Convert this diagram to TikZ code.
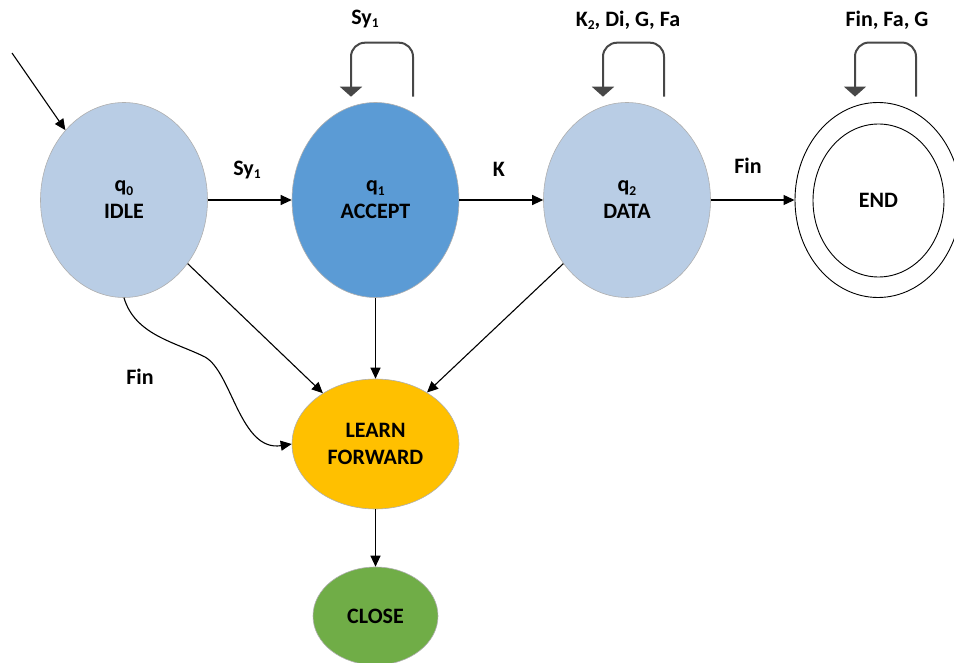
\documentclass[tikz,border=0pt]{standalone}
\usepackage{fontspec}
\setmainfont{Carlito}
\usetikzlibrary{shapes.geometric,arrows.meta,calc}
\newcommand\lowidx[1]{\raisebox{-0.3ex}{\fontsize{13.5}{13.5}\selectfont #1}}
\definecolor{paleblue}{RGB}{185,205,229}
\definecolor{midblue}{RGB}{91,155,213}
\definecolor{amber}{RGB}{255,192,0}
\definecolor{leaf}{RGB}{112,173,71}
\definecolor{rimgray}{RGB}{175,175,175}
\begin{document}
\begin{tikzpicture}[x=1pt,y=-1pt,
  font=\fontsize{22}{27}\selectfont\bfseries,
  state/.style={ellipse, draw=rimgray, line width=0.6pt, inner sep=0pt,
    align=center, minimum width=167pt, minimum height=195pt},
  edge/.style={-{Triangle[length=11pt,width=10pt]}, line width=1.1pt},
  selfloop/.style={-{Triangle[length=10pt,width=22pt]}, line width=2pt,
    draw=black!72, rounded corners=14pt}]
\useasboundingbox (0,0) rectangle (954,663);

% states
\node[state, fill=paleblue] (idle)   at (124,200)   {q\lowidx{0}\\IDLE};
\node[state, fill=midblue]  (accept) at (375.5,200) {q\lowidx{1}\\ACCEPT};
\node[state, fill=paleblue] (data)   at (627,200)   {q\lowidx{2}\\DATA};
\node[state, draw=black, line width=0.9pt, minimum width=166pt] (end) at (878,200) {};
\node[ellipse, draw=black, line width=0.9pt, inner sep=0pt,
      minimum width=131pt, minimum height=153pt] (endin) at (878.5,200.5) {END};
\node[state, fill=amber, minimum height=130pt] (learn) at (375.5,444) {LEARN\\FORWARD};
\node[state, fill=leaf, minimum width=125pt, minimum height=98pt] (close) at (375.5,616) {CLOSE};

% initial arrow
\coordinate (init) at (12,53);
\draw[edge] (init) -- (idle.130);

% main transitions
\draw[edge] (idle) -- (accept);
\draw[edge] (accept) -- (data);
\draw[edge] (data) -- (end);
\draw[edge] (idle.-45) -- (learn.136);
\draw[edge] (accept) -- (learn);
\draw[edge] (data.-135) -- (learn.45);
\draw[edge] (learn) -- (close);
\coordinate (fmid) at (205,357);
\draw[edge] (idle.south) .. controls (135,335) and (175,342) .. (fmid)
            .. controls (232,372) and (240,452) .. (learn.west);

% self loops
\draw[selfloop] ($(accept.north)+(37.5,-5.5)$) -- ++(0,-54) -| ($(accept.north)+(-24.5,-5.5)$);
\draw[selfloop] ($(data.north)+(37,-5.5)$) -- ++(0,-54) -| ($(data.north)+(-24,-5.5)$);
\draw[selfloop] ($(end.north)+(38,-5.5)$) -- ++(0,-54) -| ($(end.north)+(-23,-5.5)$);

% transition labels
\node (l01)  at (247,170) {Sy\lowidx{1}};
\node (l12)  at (499,169) {K};
\node (l2e)  at (748,166) {Fin};
\node (l0l)  at (140,377) {Fin};
\node (l11)  at (365,19)  {Sy\lowidx{1}};
\node (l22)  at (628,20)  {K\lowidx{2}, Di, G, Fa};
\node (lee)  at (887,20)  {Fin, Fa, G};
\end{tikzpicture}
\end{document}
